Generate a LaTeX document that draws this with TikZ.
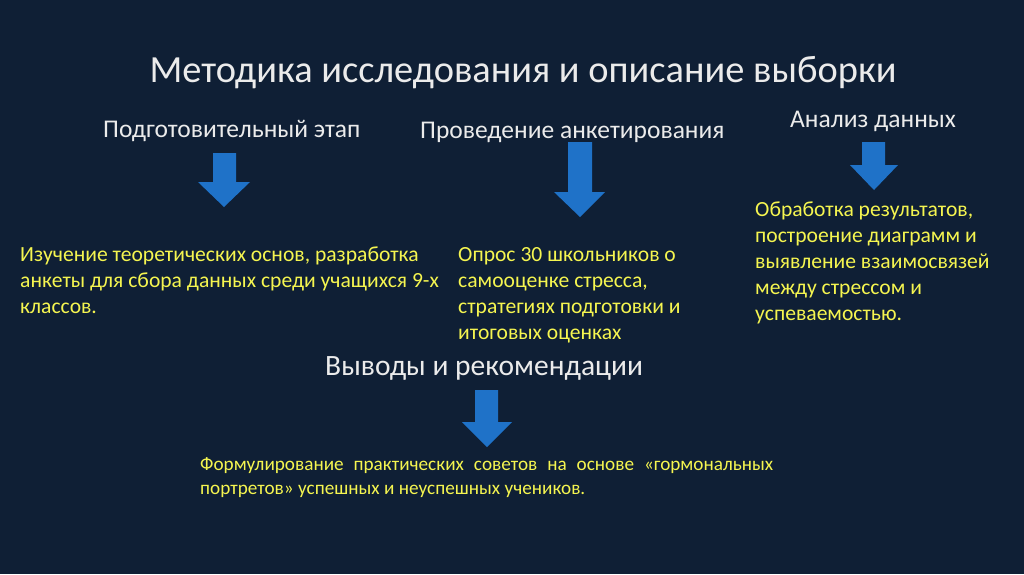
\documentclass[tikz,border=0pt]{standalone}
\usepackage{fontspec}
\setmainfont{Carlito}
\definecolor{bg}{HTML}{0F1F35}
\definecolor{ylw}{HTML}{F5F550}
\definecolor{wht}{HTML}{EBEBEB}
\definecolor{arr}{HTML}{1F72C8}
\begin{document}
\begin{tikzpicture}[x=1pt,y=-1pt,
  titletext/.style={anchor=base,inner sep=0pt,text=wht,font=\fontsize{38.4}{44}\selectfont},
  headtext/.style={anchor=base west,inner sep=0pt,text=wht,font=\fontsize{25.5}{30}\selectfont},
  bodytext/.style={anchor=north west,inner sep=0pt,text=ylw,align=left,font=\fontsize{21.6}{26}\selectfont},
  smalltext/.style={anchor=north west,inner sep=0pt,text=ylw,text width=573pt,align=justify,font=\fontsize{19.2}{24}\selectfont},
  blockarrow/.style={fill=arr,draw=none}]
\fill[bg] (0,0) rectangle (1024,574);
\useasboundingbox (0,0) rectangle (1024,574);

\node[titletext] (title) at (523,82) {Методика исследования и описание выборки};

\node[headtext] (h1) at (103,137) {Подготовительный этап};
\node[headtext] (h2) at (420,138) {Проведение анкетирования};
\node[headtext] (h3) at (790,127) {Анализ данных};
\node[headtext,font=\fontsize{29.5}{34}\selectfont] (h4) at (325,375) {Выводы и рекомендации};

\fill[blockarrow] (213,153) -- (236,153) -- (236,182) -- (250,182) -- (224,207) -- (198,182) -- (213,182) -- cycle;
\fill[blockarrow] (568,142) -- (592,142) -- (592,192) -- (605,192) -- (580,217) -- (554,192) -- (568,192) -- cycle;
\fill[blockarrow] (862,142) -- (885,142) -- (885,165) -- (898,165) -- (874,190) -- (850,165) -- (862,165) -- cycle;
\fill[blockarrow] (475,390) -- (498,390) -- (498,422) -- (512,422) -- (487,447) -- (462,422) -- (475,422) -- cycle;

\node[bodytext] (t1) at (20,247) {Изучение теоретических основ, разработка\\анкеты для сбора данных среди учащихся 9-х\\классов.};
\node[bodytext] (t2) at (458,247) {Опрос 30 школьников о\\самооценке стресса,\\стратегиях подготовки и\\итоговых оценках};
\node[bodytext] (t3) at (755,202) {Обработка результатов,\\построение диаграмм и\\выявление взаимосвязей\\между стрессом и\\успеваемостью.};
\node[smalltext] (t4) at (200,457) {Формулирование практических советов на основе «гормональных портретов» успешных и неуспешных учеников.};
\end{tikzpicture}
\end{document}
